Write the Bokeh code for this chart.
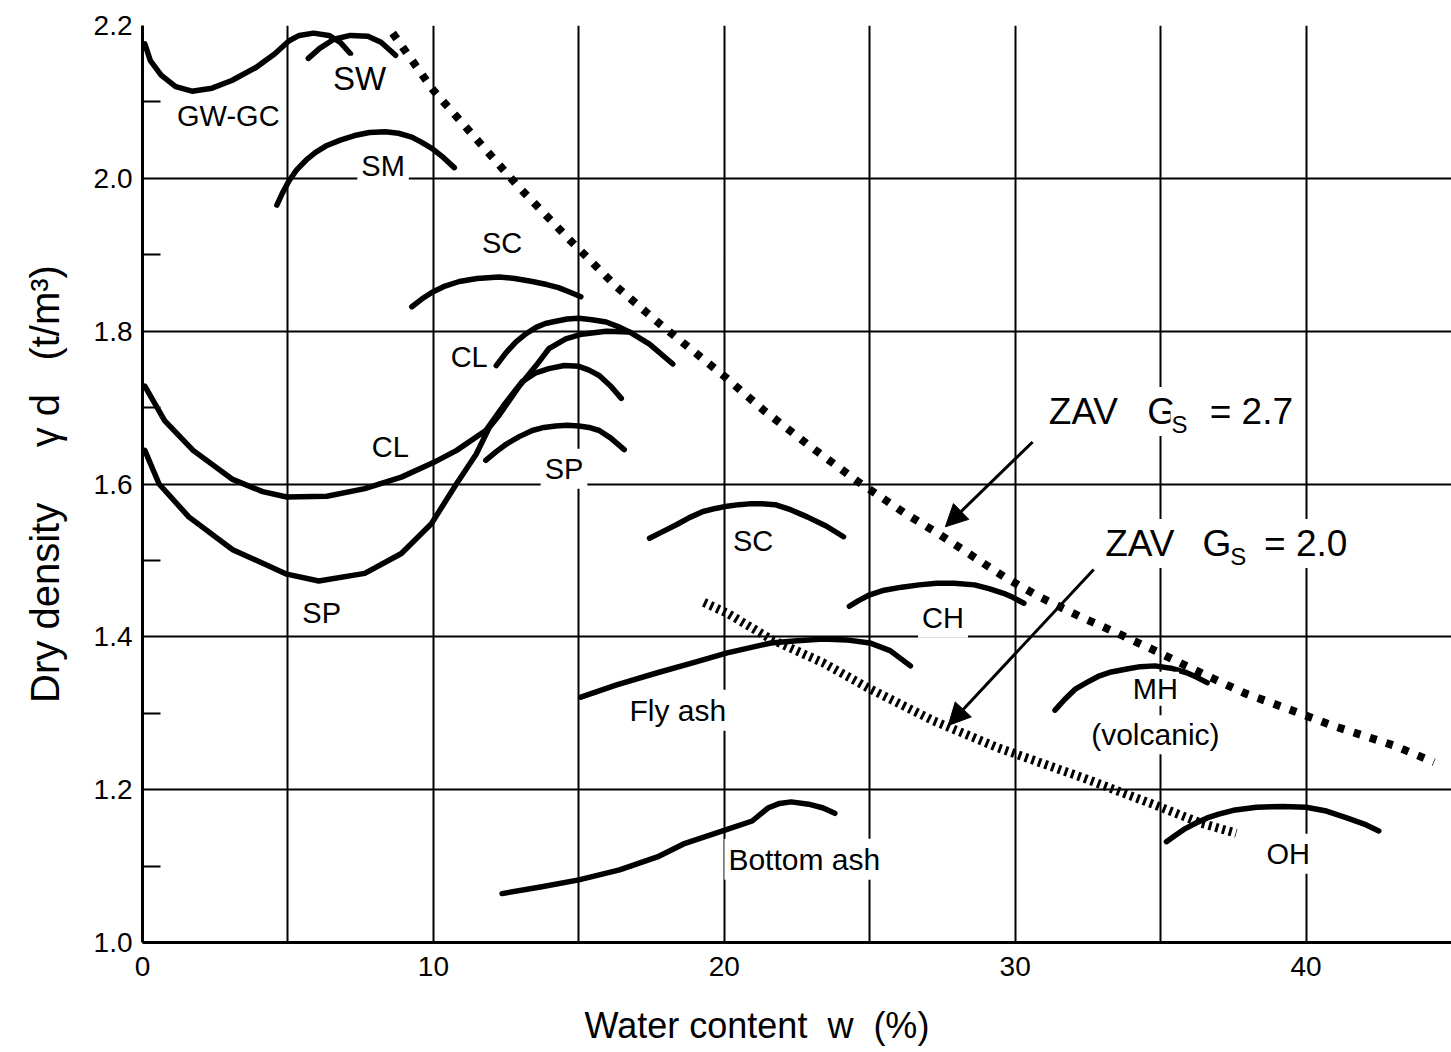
from bokeh.plotting import figure
from bokeh.models import Label, Arrow, NormalHead, FixedTicker, PrintfTickFormatter, Range1d
from bokeh.embed import file_html
from bokeh.resources import INLINE

FONT = "Liberation Sans"
NB = "\u00a0"

# ---------------- data ----------------
# compaction curves: water content w (%) and dry density (t/m3)
gwgc_w = [0.08, 0.27, 0.64, 1.14, 1.70, 2.39, 3.07, 3.90, 4.55, 5.04, 5.39, 5.88, 6.41, 6.80, 7.15]
gwgc_y = [2.176, 2.154, 2.135, 2.120, 2.114, 2.118, 2.128, 2.145, 2.163, 2.180, 2.187, 2.190, 2.187, 2.178, 2.163]

sw_w = [5.70, 6.09, 6.58, 7.15, 7.75, 8.20, 8.70]
sw_y = [2.157, 2.170, 2.182, 2.187, 2.186, 2.178, 2.161]

sm_w = [4.62, 4.80, 5.04, 5.30, 5.63, 5.95, 6.34, 6.80, 7.29, 7.80, 8.35, 8.80, 9.26, 9.60, 9.96, 10.35, 10.72]
sm_y = [1.965, 1.980, 1.997, 2.011, 2.024, 2.034, 2.043, 2.050, 2.056, 2.060, 2.061, 2.059, 2.054, 2.047, 2.039, 2.027, 2.014]

sc1_w = [9.26, 9.60, 9.96, 10.40, 10.89, 11.50, 12.26, 12.80, 13.40, 13.90, 14.30, 14.70, 15.07]
sc1_y = [1.832, 1.842, 1.851, 1.859, 1.865, 1.869, 1.871, 1.869, 1.865, 1.861, 1.857, 1.851, 1.845]

cl1_w = [12.16, 12.50, 12.84, 13.20, 13.53, 13.85, 14.21, 14.60, 15.00, 15.45, 15.94, 16.35, 16.74]
cl1_y = [1.755, 1.772, 1.786, 1.797, 1.805, 1.810, 1.813, 1.816, 1.817, 1.815, 1.812, 1.806, 1.799]

cl2_w = [0.08, 0.76, 1.74, 3.10, 4.13, 4.96, 6.34, 7.64, 8.90, 10.0, 10.8, 11.8, 12.4, 13.05, 13.5, 13.97, 14.5, 15.0, 15.35, 15.7, 16.1, 16.46]
cl2_y = [1.728, 1.683, 1.644, 1.606, 1.590, 1.583, 1.584, 1.594, 1.609, 1.628, 1.644, 1.670, 1.702, 1.734, 1.745, 1.751, 1.755, 1.754, 1.749, 1.742, 1.728, 1.712]

sp1_w = [0.08, 0.57, 1.59, 3.10, 4.96, 6.06, 7.64, 8.90, 9.93, 10.79, 11.47, 11.92, 12.26, 12.95, 13.53, 13.97, 14.55, 15.10, 15.94, 16.74, 17.43, 18.23]
sp1_y = [1.644, 1.600, 1.557, 1.514, 1.482, 1.473, 1.483, 1.509, 1.548, 1.600, 1.639, 1.674, 1.690, 1.728, 1.755, 1.777, 1.790, 1.796, 1.800, 1.799, 1.783, 1.757]

sp2_w = [11.8, 12.15, 12.5, 12.95, 13.4, 13.8, 14.21, 14.6, 15.0, 15.35, 15.7, 16.1, 16.56]
sp2_y = [1.631, 1.642, 1.652, 1.662, 1.670, 1.674, 1.676, 1.677, 1.676, 1.674, 1.670, 1.660, 1.645]

sc2_w = [17.43, 17.90, 18.37, 18.80, 19.27, 19.70, 20.10, 20.50, 20.86, 21.30, 21.75, 22.30, 22.85, 23.50, 24.10]
sc2_y = [1.529, 1.538, 1.547, 1.556, 1.564, 1.568, 1.571, 1.573, 1.574, 1.574, 1.573, 1.566, 1.557, 1.545, 1.531]

ch_w = [24.3, 24.6, 25.0, 25.5, 26.1, 26.7, 27.3, 27.9, 28.6, 29.1, 29.6, 29.9, 30.3]
ch_y = [1.440, 1.447, 1.455, 1.461, 1.465, 1.468, 1.470, 1.470, 1.468, 1.463, 1.457, 1.452, 1.444]

fly_w = [15.07, 16.3, 17.7, 19.0, 20.1, 21.6, 22.5, 23.4, 24.2, 25.0, 25.7, 26.4]
fly_y = [1.321, 1.337, 1.353, 1.367, 1.379, 1.392, 1.395, 1.397, 1.396, 1.392, 1.382, 1.362]

bot_w = [12.36, 13.73, 15.0, 16.4, 17.7, 18.6, 20.1, 20.96, 21.5, 21.9, 22.3, 22.9, 23.4, 23.8]
bot_y = [1.064, 1.073, 1.082, 1.095, 1.112, 1.129, 1.148, 1.159, 1.176, 1.182, 1.184, 1.181, 1.176, 1.169]

mh_w = [31.37, 31.70, 32.08, 32.50, 32.90, 33.30, 33.84, 34.30, 34.80, 35.35, 35.90, 36.25, 36.60]
mh_y = [1.304, 1.318, 1.332, 1.341, 1.349, 1.354, 1.358, 1.361, 1.362, 1.359, 1.353, 1.347, 1.340]

oh_w = [35.2, 35.5, 35.8, 36.2, 36.6, 37.0, 37.5, 38.3, 39.2, 40.0, 40.7, 41.4, 42.0, 42.5]
oh_y = [1.132, 1.140, 1.148, 1.156, 1.163, 1.168, 1.173, 1.177, 1.178, 1.177, 1.172, 1.163, 1.155, 1.146]

# zero-air-void lines
zav27_w = [8.6, 10.0, 12.9, 14.8, 16.3, 17.8, 20.0, 21.4, 23.0, 24.6, 26.2, 27.4, 29.6, 30.8, 32.2, 33.5, 34.8, 36.1, 37.9, 39.5, 40.9, 43.0, 44.4]
zav27_y = [2.19, 2.115, 1.99, 1.915, 1.858, 1.809, 1.741, 1.695, 1.648, 1.603, 1.562, 1.534, 1.479, 1.453, 1.427, 1.405, 1.382, 1.358, 1.326, 1.304, 1.284, 1.258, 1.236]

zav20_w = [19.3, 20.1, 21.6, 23.4, 25.0, 27.2, 29.4, 32.3, 34.8, 36.4, 37.6]
zav20_y = [1.445, 1.431, 1.397, 1.366, 1.332, 1.290, 1.255, 1.216, 1.180, 1.156, 1.143]

# curve labels
lab_text = ["GW-GC", "SW", "SM", "SC", "CL", "CL", "SP", "SP", "SC", "CH", "Fly ash", "MH", "(volcanic)", "Bottom ash", "OH"]
lab_w = [2.95, 7.46, 8.27, 12.36, 11.23, 8.52, 14.49, 6.16, 20.99, 27.52, 18.4, 34.82, 34.82, 22.75, 39.39]
lab_y = [2.082, 2.131, 2.016, 1.916, 1.766, 1.648, 1.620, 1.431, 1.525, 1.425, 1.304, 1.332, 1.272, 1.109, 1.116]
lab_size = ["29px", "33px", "29px", "29px", "29px", "29px", "29px", "29px", "29px", "29px", "30px", "29px", "30px", "30px", "29px"]
lab_pad = [4, 4, 4, 4, 4, 4, 4, 4, 4, 4, 4, 1, 3, 4, 4]

# axis ticks
x_tick_labels = [0, 10, 20, 30, 40]
x_grid = [5, 10, 15, 20, 25, 30, 35, 40]
y_ticks = [1.0, 1.2, 1.4, 1.6, 1.8, 2.0, 2.2]
y_minor = [1.1, 1.3, 1.5, 1.7, 1.9, 2.1]
y_grid = [1.2, 1.4, 1.6, 1.8, 2.0, 2.2]

# ---------------- figure ----------------
p = figure(width=1451, height=1052, x_range=Range1d(0, 45), y_range=Range1d(1.0, 2.2),
           output_backend="svg", toolbar_location=None,
           min_border_left=142, min_border_right=0, min_border_top=25, min_border_bottom=110)
p.outline_line_color = None
p.background_fill_color = "white"
p.border_fill_color = "white"

p.xgrid.ticker = FixedTicker(ticks=x_grid)
p.ygrid.ticker = FixedTicker(ticks=y_grid)
for g in (p.xgrid, p.ygrid):
    g.grid_line_color = "black"
    g.grid_line_width = 2

p.xaxis.ticker = FixedTicker(ticks=x_tick_labels)
p.yaxis.ticker = FixedTicker(ticks=y_ticks, minor_ticks=y_minor)
p.yaxis.formatter = PrintfTickFormatter(format="%.1f")
for ax in (p.xaxis, p.yaxis):
    ax.axis_line_color = "black"
    ax.axis_line_width = 3
    ax.major_tick_in = 0
    ax.major_tick_out = 0
    ax.major_label_text_font = FONT
    ax.major_label_text_font_size = "28px"
    ax.major_label_text_color = "black"
p.xaxis.minor_tick_line_color = None
p.xaxis.major_label_standoff = 14
p.yaxis.major_label_standoff = 10
p.yaxis.minor_tick_in = 18
p.yaxis.minor_tick_out = 0
p.yaxis.minor_tick_line_width = 2
p.yaxis.minor_tick_line_color = "black"

p.yaxis.axis_label = "Dry" + NB + "density" + NB * 5 + "\u03b3" + NB + "d" + NB * 3 + "(t/m\u00b3)"
p.yaxis.axis_label_text_font = FONT
p.yaxis.axis_label_text_font_size = "40px"
p.yaxis.axis_label_text_font_style = "normal"
p.yaxis.axis_label_text_color = "black"
p.yaxis.axis_label_standoff = 24

p.xaxis.axis_label = "Water" + NB + "content" + NB * 2 + "w" + NB * 2 + "(%)" + NB * 8
p.xaxis.axis_label_text_font = FONT
p.xaxis.axis_label_text_font_size = "36px"
p.xaxis.axis_label_text_font_style = "normal"
p.xaxis.axis_label_text_color = "black"
p.xaxis.axis_label_standoff = 26

# curves
curves = [(gwgc_w, gwgc_y), (sw_w, sw_y), (sm_w, sm_y), (sc1_w, sc1_y), (cl1_w, cl1_y),
          (cl2_w, cl2_y), (sp1_w, sp1_y), (sp2_w, sp2_y), (sc2_w, sc2_y), (ch_w, ch_y),
          (fly_w, fly_y), (bot_w, bot_y), (mh_w, mh_y), (oh_w, oh_y)]
for cw, cy in curves:
    p.line(cw, cy, line_color="black", line_width=5.5, line_cap="round", line_join="round")

p.line(zav27_w, zav27_y, line_color="black", line_width=8, line_dash="7 10", line_cap="butt")
p.line(zav20_w, zav20_y, line_color="black", line_width=9, line_dash="3 4", line_cap="butt")

# labels
for t, lw, ly, fs, pad in zip(lab_text, lab_w, lab_y, lab_size, lab_pad):
    p.add_layout(Label(x=lw, y=ly, text=t, text_align="center", text_baseline="middle",
                       text_font=FONT, text_font_size=fs, text_color="black",
                       background_fill_color="white", padding=pad))

def zav_label(x0, xg, xs, xe, yc, ys, val):
    kw = dict(text_font=FONT, text_color="black", text_baseline="middle", text_align="left",
              background_fill_color="white")
    p.add_layout(Label(x=x0, y=yc, text="ZAV", text_font_size="37px", padding=4, **kw))
    p.add_layout(Label(x=xg, y=yc, text="G", text_font_size="37px", padding=4, **kw))
    p.add_layout(Label(x=xs, y=ys, text="S", text_font_size="24px", padding=1, **kw))
    p.add_layout(Label(x=xe, y=yc, text="= " + val, text_font_size="37px", padding=4, **kw))

zav_label(31.02, 34.4, 35.34, 36.55, 1.695, 1.678, "2.7")
zav_label(32.96, 36.3, 37.36, 38.42, 1.522, 1.505, "2.0")

# arrows
p.add_layout(Arrow(end=NormalHead(size=22, fill_color="black", line_color="black"),
                   x_start=30.6, y_start=1.655, x_end=27.6, y_end=1.544,
                   line_color="black", line_width=3))
p.add_layout(Arrow(end=NormalHead(size=22, fill_color="black", line_color="black"),
                   x_start=32.7, y_start=1.488, x_end=27.7, y_end=1.284,
                   line_color="black", line_width=3))

open("out.html", "w").write(file_html(p, INLINE))
